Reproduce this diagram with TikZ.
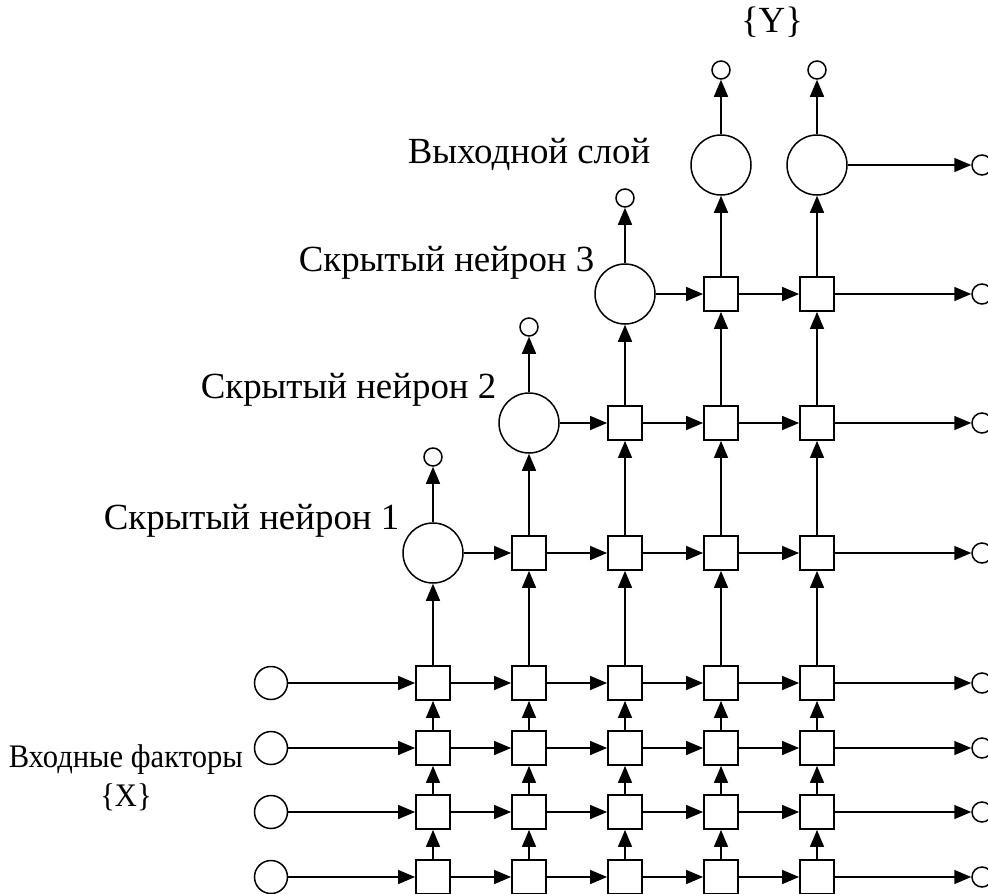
\documentclass[tikz,border=0pt]{standalone}
\usepackage{fontspec}
\setmainfont{Liberation Serif}
\newfontfamily\narrowserif[FakeStretch=0.93]{Liberation Serif}
\usetikzlibrary{arrows.meta}
\begin{document}
\begin{tikzpicture}[x=1bp,y=-1bp,
  line width=1.5bp,
  conn/.style={-{Triangle[length=17bp,width=14bp]}},
  cell/.style={draw,rectangle,minimum size=34bp,inner sep=0pt,line width=1.8bp},
  unit/.style={draw,circle,minimum size=60bp,inner sep=0pt},
  tap/.style={draw,circle,minimum size=18bp,inner sep=0pt},
  src/.style={draw,circle,minimum size=33bp,inner sep=0pt},
  sink/.style={draw,circle,minimum size=20bp,inner sep=0pt},
  lbl/.style={font=\fontsize{37}{43}\selectfont,inner sep=0pt},
  lbls/.style={font=\narrowserif\fontsize{33}{39}\selectfont,inner sep=0pt}]
\useasboundingbox (0,0) rectangle (988,894);

% input rows: source, five cells, sink
\foreach \r/\y in {1/683,2/748,3/812,4/877} {
  \node[src] (x\r) at (271,\y) {};
  \node[sink] (xo\r) at (982,\y) {};
  \foreach \c/\x in {1/433,2/529,3/625,4/721,5/817}
    \node[cell] (s\c-\r) at (\x,\y) {};
}

% hidden units, output units and their taps
\node[unit] (h1) at (433,553) {};
\node[unit] (h2) at (529,423) {};
\node[unit] (h3) at (625,294) {};
\node[unit] (y1) at (721,165) {};
\node[unit] (y2) at (817,165) {};
\node[tap] (t1) at (433,457) {};
\node[tap] (t2) at (529,327) {};
\node[tap] (t3) at (625,198) {};
\node[tap] (ty1) at (721,70) {};
\node[tap] (ty2) at (817,70) {};

% cells fed by the hidden units
\foreach \c/\x in {2/529,3/625,4/721,5/817} \node[cell] (s\c-h1) at (\x,553) {};
\foreach \c/\x in {3/625,4/721,5/817} \node[cell] (s\c-h2) at (\x,423) {};
\foreach \c/\x in {4/721,5/817} \node[cell] (s\c-h3) at (\x,294) {};

% sinks on the right edge
\node[sink] (ho1) at (982,553) {};
\node[sink] (ho2) at (982,423) {};
\node[sink] (ho3) at (982,294) {};
\node[sink] (yo) at (982,165) {};

% horizontal connections of the input rows
\foreach \r in {1,2,3,4} {
  \draw[conn] (x\r) -- (s1-\r);
  \foreach \a/\b in {1/2,2/3,3/4,4/5} \draw[conn] (s\a-\r) -- (s\b-\r);
  \draw[conn] (s5-\r) -- (xo\r);
}
% vertical connections inside the input block
\foreach \c in {1,...,5} {
  \draw[conn] (s\c-4) -- (s\c-3);
  \draw[conn] (s\c-3) -- (s\c-2);
  \draw[conn] (s\c-2) -- (s\c-1);
}
% column 1
\draw[conn] (s1-1) -- (h1);
\draw[conn] (h1) -- (t1);
% column 2
\draw[conn] (s2-1) -- (s2-h1);
\draw[conn] (s2-h1) -- (h2);
\draw[conn] (h2) -- (t2);
% column 3
\draw[conn] (s3-1) -- (s3-h1);
\draw[conn] (s3-h1) -- (s3-h2);
\draw[conn] (s3-h2) -- (h3);
\draw[conn] (h3) -- (t3);
% columns 4 and 5
\foreach \c in {4,5} {
  \draw[conn] (s\c-1) -- (s\c-h1);
  \draw[conn] (s\c-h1) -- (s\c-h2);
  \draw[conn] (s\c-h2) -- (s\c-h3);
}
\draw[conn] (s4-h3) -- (y1);
\draw[conn] (y1) -- (ty1);
\draw[conn] (s5-h3) -- (y2);
\draw[conn] (y2) -- (ty2);
% horizontal connections of the hidden rows
\draw[conn] (h1) -- (s2-h1);
\foreach \a/\b in {2/3,3/4,4/5} \draw[conn] (s\a-h1) -- (s\b-h1);
\draw[conn] (s5-h1) -- (ho1);
\draw[conn] (h2) -- (s3-h2);
\foreach \a/\b in {3/4,4/5} \draw[conn] (s\a-h2) -- (s\b-h2);
\draw[conn] (s5-h2) -- (ho2);
\draw[conn] (h3) -- (s4-h3);
\draw[conn] (s4-h3) -- (s5-h3);
\draw[conn] (s5-h3) -- (ho3);
\draw[conn] (y2) -- (yo);

% labels
\node[lbl,anchor=base] (ly) at (772,32) {\{Y\}};
\node[lbl,anchor=base west] (lout) at (407,163) {Выходной слой};
\node[lbl,anchor=base west] (lh3) at (298,271) {Скрытый нейрон 3};
\node[lbl,anchor=base west] (lh2) at (200,398) {Скрытый нейрон 2};
\node[lbl,anchor=base west] (lh1) at (103,529) {Скрытый нейрон 1};
\node[lbls,anchor=base west] (lin) at (8,767) {Входные факторы};
\node[lbls,anchor=base] (lx) at (126,806) {\{X\}};
\end{tikzpicture}
\end{document}
